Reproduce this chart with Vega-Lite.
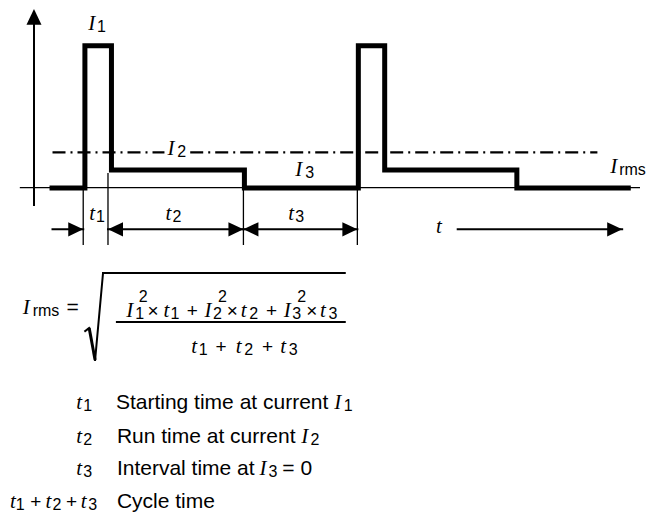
{
  "$schema": "https://vega.github.io/schema/vega-lite/v6.json",
  "width": 646,
  "height": 519,
  "padding": 0,
  "autosize": {"type": "fit", "contains": "padding"},
  "background": "white",
  "config": {"view": {"stroke": null}},
  "datasets": {
    "segs": [
      {"x": 20, "y": 187.7, "x2": 646, "y2": 187.7, "kind": "thin"},
      {"x": 84, "y": 188, "x2": 84, "y2": 245, "kind": "thin"},
      {"x": 109, "y": 173, "x2": 109, "y2": 245, "kind": "thin"},
      {"x": 245.7, "y": 188, "x2": 245.7, "y2": 245, "kind": "thin"},
      {"x": 360.7, "y": 188, "x2": 360.7, "y2": 245, "kind": "thin"},
      {"x": 34.3, "y": 205, "x2": 34.3, "y2": 20, "kind": "med"},
      {"x": 53, "y": 229.3, "x2": 84, "y2": 229.3, "kind": "med"},
      {"x": 109, "y": 229.3, "x2": 245.7, "y2": 229.3, "kind": "med"},
      {"x": 245.7, "y": 229.3, "x2": 360.7, "y2": 229.3, "kind": "med"},
      {"x": 462, "y": 229.3, "x2": 628, "y2": 229.3, "kind": "med"},
      {"x": 118, "y": 322, "x2": 348, "y2": 322, "kind": "med"},
      {"x": 86, "y": 331, "x2": 90, "y2": 328, "kind": "med"},
      {"x": 96, "y": 360, "x2": 104, "y2": 273, "kind": "med"},
      {"x": 104, "y": 273, "x2": 348, "y2": 273, "kind": "med"},
      {"x": 90, "y": 328, "x2": 96, "y2": 360, "kind": "thick"}
    ],
    "dashdot": [
      {"x": 53, "y": 152.3, "x2": 166, "y2": 152.3},
      {"x": 192, "y": 152.3, "x2": 603, "y2": 152.3}
    ],
    "wave": [
      {"i": 1, "x": 50, "y": 188},
      {"i": 2, "x": 85.7, "y": 188},
      {"i": 3, "x": 85.7, "y": 45.7},
      {"i": 4, "x": 112.5, "y": 45.7},
      {"i": 5, "x": 112.5, "y": 170},
      {"i": 6, "x": 246.7, "y": 170},
      {"i": 7, "x": 246.7, "y": 188},
      {"i": 8, "x": 361.7, "y": 188},
      {"i": 9, "x": 361.7, "y": 45.7},
      {"i": 10, "x": 388.3, "y": 45.7},
      {"i": 11, "x": 388.3, "y": 170},
      {"i": 12, "x": 521.7, "y": 170},
      {"i": 13, "x": 521.7, "y": 188},
      {"i": 14, "x": 636.7, "y": 188}
    ],
    "arrows": [
      {"x": 34.3, "y": 9, "dir": "up"},
      {"x": 84, "y": 229.3, "dir": "right"},
      {"x": 109, "y": 229.3, "dir": "left"},
      {"x": 245.7, "y": 229.3, "dir": "right"},
      {"x": 245.7, "y": 229.3, "dir": "left"},
      {"x": 360.7, "y": 229.3, "dir": "right"},
      {"x": 628, "y": 229.3, "dir": "right"}
    ],
    "glyphs": [
      {"x": 89, "y": 30, "text": "I", "s": "var"},
      {"x": 98, "y": 32, "text": "1", "s": "sub"},
      {"x": 169, "y": 155, "text": "I", "s": "var"},
      {"x": 179, "y": 157, "text": "2", "s": "sub"},
      {"x": 298, "y": 176, "text": "I", "s": "var"},
      {"x": 308, "y": 178, "text": "3", "s": "sub"},
      {"x": 616, "y": 173, "text": "I", "s": "var"},
      {"x": 625, "y": 175, "text": "rms", "s": "sub"},
      {"x": 90, "y": 220, "text": "t", "s": "var"},
      {"x": 97, "y": 222, "text": "1", "s": "sub"},
      {"x": 167, "y": 220, "text": "t", "s": "var"},
      {"x": 174, "y": 222, "text": "2", "s": "sub"},
      {"x": 291, "y": 220, "text": "t", "s": "var"},
      {"x": 298, "y": 222, "text": "3", "s": "sub"},
      {"x": 440, "y": 233, "text": "t", "s": "var"},

      {"x": 23, "y": 314, "text": "I", "s": "var"},
      {"x": 33, "y": 316, "text": "rms", "s": "sub"},
      {"x": 67, "y": 314, "text": "=", "s": "txt"},

      {"x": 127.5, "y": 317, "text": "I", "s": "var"},
      {"x": 136.5, "y": 318.5, "text": "1", "s": "sub"},
      {"x": 140, "y": 301.5, "text": "2", "s": "sub"},
      {"x": 149, "y": 317, "text": "×", "s": "op"},
      {"x": 165, "y": 317, "text": "t", "s": "var"},
      {"x": 172, "y": 318.5, "text": "1", "s": "sub"},
      {"x": 188.5, "y": 317, "text": "+", "s": "op"},
      {"x": 206.5, "y": 317, "text": "I", "s": "var"},
      {"x": 215, "y": 318.5, "text": "2", "s": "sub"},
      {"x": 220, "y": 301.5, "text": "2", "s": "sub"},
      {"x": 229, "y": 317, "text": "×", "s": "op"},
      {"x": 243, "y": 317, "text": "t", "s": "var"},
      {"x": 251.5, "y": 318.5, "text": "2", "s": "sub"},
      {"x": 268.5, "y": 317, "text": "+", "s": "op"},
      {"x": 286.5, "y": 317, "text": "I", "s": "var"},
      {"x": 295, "y": 318.5, "text": "3", "s": "sub"},
      {"x": 300, "y": 301.5, "text": "2", "s": "sub"},
      {"x": 309, "y": 317, "text": "×", "s": "op"},
      {"x": 323, "y": 317, "text": "t", "s": "var"},
      {"x": 331.5, "y": 318.5, "text": "3", "s": "sub"},

      {"x": 193, "y": 353, "text": "t", "s": "var"},
      {"x": 200.5, "y": 354.5, "text": "1", "s": "sub"},
      {"x": 217.5, "y": 353, "text": "+", "s": "op"},
      {"x": 238, "y": 353, "text": "t", "s": "var"},
      {"x": 246.5, "y": 354.5, "text": "2", "s": "sub"},
      {"x": 264.5, "y": 353, "text": "+", "s": "op"},
      {"x": 283, "y": 353, "text": "t", "s": "var"},
      {"x": 291.5, "y": 354.5, "text": "3", "s": "sub"},

      {"x": 77, "y": 409, "text": "t", "s": "var"},
      {"x": 84, "y": 411, "text": "1", "s": "sub"},
      {"x": 117, "y": 409, "text": "Starting time at current", "s": "txt"},
      {"x": 337.5, "y": 409, "text": "I", "s": "var"},
      {"x": 347, "y": 411, "text": "1", "s": "sub"},

      {"x": 77, "y": 443, "text": "t", "s": "var"},
      {"x": 84, "y": 445, "text": "2", "s": "sub"},
      {"x": 118, "y": 443, "text": "Run time at current", "s": "txt"},
      {"x": 304, "y": 443, "text": "I", "s": "var"},
      {"x": 313.5, "y": 445, "text": "2", "s": "sub"},

      {"x": 77, "y": 475, "text": "t", "s": "var"},
      {"x": 84, "y": 477, "text": "3", "s": "sub"},
      {"x": 118, "y": 475, "text": "Interval time at", "s": "txt"},
      {"x": 262, "y": 475, "text": "I", "s": "var"},
      {"x": 271, "y": 477, "text": "3", "s": "sub"},
      {"x": 285, "y": 475, "text": "= 0", "s": "txt"},

      {"x": 10, "y": 508, "text": "t", "s": "var"},
      {"x": 16, "y": 510, "text": "1", "s": "sub"},
      {"x": 30.5, "y": 508, "text": "+", "s": "op"},
      {"x": 46, "y": 508, "text": "t", "s": "var"},
      {"x": 53, "y": 510, "text": "2", "s": "sub"},
      {"x": 66.5, "y": 508, "text": "+", "s": "op"},
      {"x": 81.5, "y": 508, "text": "t", "s": "var"},
      {"x": 89, "y": 510, "text": "3", "s": "sub"},
      {"x": 118, "y": 508, "text": "Cycle time", "s": "txt"}
    ]
  },
  "encoding": {
    "x": {"field": "x", "type": "quantitative", "scale": {"domain": [0, 646], "nice": false, "zero": false}, "axis": null},
    "y": {"field": "y", "type": "quantitative", "scale": {"domain": [0, 519], "nice": false, "zero": false, "reverse": true}, "axis": null}
  },
  "layer": [
    {
      "data": {"name": "segs"},
      "transform": [{"filter": "datum.kind === 'thin'"}],
      "mark": {"type": "rule", "color": "#000", "strokeWidth": 1.3},
      "encoding": {"x2": {"field": "x2"}, "y2": {"field": "y2"}}
    },
    {
      "data": {"name": "segs"},
      "transform": [{"filter": "datum.kind === 'med'"}],
      "mark": {"type": "rule", "color": "#000", "strokeWidth": 2, "strokeCap": "square"},
      "encoding": {"x2": {"field": "x2"}, "y2": {"field": "y2"}}
    },
    {
      "data": {"name": "segs"},
      "transform": [{"filter": "datum.kind === 'thick'"}],
      "mark": {"type": "rule", "color": "#000", "strokeWidth": 3},
      "encoding": {"x2": {"field": "x2"}, "y2": {"field": "y2"}}
    },
    {
      "data": {"name": "dashdot"},
      "mark": {"type": "rule", "color": "#000", "strokeWidth": 2.2, "strokeDash": [13, 5, 2, 5]},
      "encoding": {"x2": {"field": "x2"}, "y2": {"field": "y2"}}
    },
    {
      "data": {"name": "wave"},
      "mark": {"type": "line", "color": "#000", "strokeWidth": 5, "strokeJoin": "miter", "strokeCap": "butt"},
      "encoding": {"order": {"field": "i", "type": "quantitative"}}
    },
    {
      "data": {"name": "arrows"},
      "mark": {"type": "point", "filled": true, "color": "#000", "opacity": 1, "size": 225, "strokeWidth": 0},
      "encoding": {
        "shape": {
          "field": "dir",
          "type": "nominal",
          "scale": {"domain": ["right", "left", "up"], "range": ["M0,0L-2,-0.95L-2,0.95Z", "M0,0L2,-0.95L2,0.95Z", "M0,0L-1,2.1L1,2.1Z"]},
          "legend": null
        }
      }
    },
    {
      "data": {"name": "glyphs"},
      "transform": [{"filter": "datum.s === 'var'"}],
      "mark": {"type": "text", "align": "left", "baseline": "alphabetic", "font": "Liberation Serif", "fontStyle": "italic", "fontSize": 21, "color": "#000"},
      "encoding": {"text": {"field": "text"}}
    },
    {
      "data": {"name": "glyphs"},
      "transform": [{"filter": "datum.s === 'sub'"}],
      "mark": {"type": "text", "align": "left", "baseline": "alphabetic", "font": "Liberation Sans", "fontSize": 16, "color": "#000"},
      "encoding": {"text": {"field": "text"}}
    },
    {
      "data": {"name": "glyphs"},
      "transform": [{"filter": "datum.s === 'txt'"}],
      "mark": {"type": "text", "align": "left", "baseline": "alphabetic", "font": "Liberation Sans", "fontSize": 21, "color": "#000"},
      "encoding": {"text": {"field": "text"}}
    },
    {
      "data": {"name": "glyphs"},
      "transform": [{"filter": "datum.s === 'op'"}],
      "mark": {"type": "text", "align": "left", "baseline": "alphabetic", "font": "Liberation Sans", "fontSize": 19, "color": "#000"},
      "encoding": {"text": {"field": "text"}}
    }
  ]
}
